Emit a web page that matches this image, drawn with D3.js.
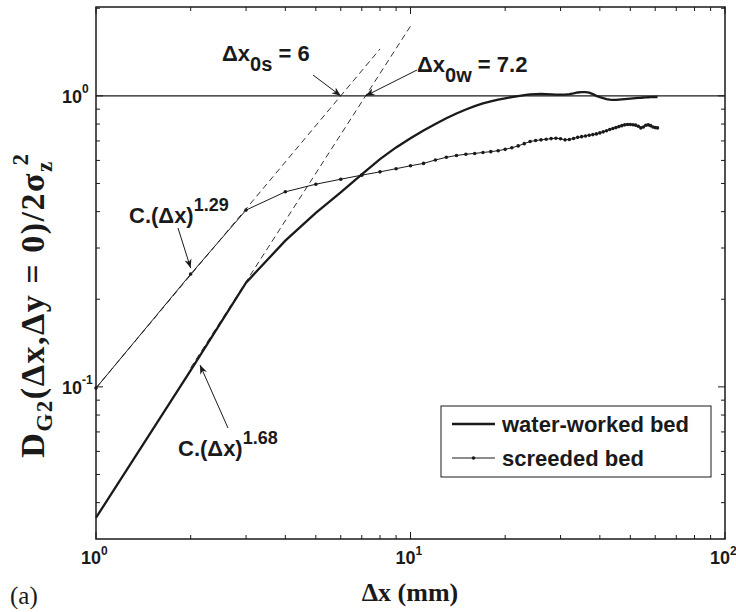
<!DOCTYPE html>
<html><head><meta charset="utf-8">
<script src="https://cdn.jsdelivr.net/npm/d3@7"></script>
<style>body{margin:0;background:#fff}</style>
</head><body><svg id="c" width="736" height="612"></svg>
<script>
const dxValues = d3.range(1, 62);
const waterWorked = [0.0355,0.114,0.228,0.318,0.396,0.466,0.537,0.606,0.665,0.715,
  0.76,0.80,0.838,0.87,0.898,0.922,0.942,0.957,0.97,0.981,
  0.99,0.998,1.005,1.011,1.014,1.015,1.014,1.012,1.01,1.009,
  1.01,1.014,1.02,1.027,1.03,1.03,1.025,1.014,1.0,0.99,
  0.982,0.975,0.97,0.968,0.968,0.97,0.972,0.974,0.976,0.978,
  0.98,0.982,0.984,0.985,0.987,0.988,0.989,0.99,0.99,0.991,0.991];
const screeded = [0.099,0.244,0.405,0.468,0.497,0.517,0.534,0.548,0.562,0.575,
  0.586,0.602,0.615,0.624,0.630,0.634,0.639,0.643,0.648,0.655,
  0.663,0.673,0.685,0.697,0.702,0.706,0.709,0.713,0.715,0.712,
  0.706,0.708,0.714,0.720,0.724,0.728,0.732,0.736,0.740,0.746,
  0.752,0.759,0.766,0.772,0.778,0.784,0.790,0.795,0.797,0.797,
  0.796,0.793,0.786,0.776,0.782,0.792,0.795,0.790,0.782,0.778,0.776];
const seriesNames = ["water-worked bed", "screeded bed"];
const xTickLabels = [{v:1, e:"0"}, {v:10, e:"1"}, {v:100, e:"2"}];
const yTickLabels = [{v:0.1, e:"-1"}, {v:1, e:"0"}];
const xMinor = [2,3,4,5,6,7,8,9,20,30,40,50,60,70,80,90];
const yMinor = [0.04,0.05,0.06,0.07,0.08,0.09,0.2,0.3,0.4,0.5,0.6,0.7,0.8,0.9,2];
const fitExponent = [1.29, 1.68];     // screeded, water-worked
const fitCrossing = [6, 7.2];         // Δx0s, Δx0w
const fitRange = [[1, 8], [2, 10]];
const referenceLevel = 1;

const svg = d3.select("#c");
const L = 96, R = 725, T = 7, B = 539;
const x = d3.scaleLog().domain([1, 100]).range([L, R]);
const y = d3.scaleLog().domain([0.03, 2.02]).range([B, T]);
const ink = "#1a1a1a";
const sans = "'Liberation Sans', Arial, sans-serif";
const serif = "'Liberation Serif', 'Times New Roman', serif";

svg.append("line").attr("x1", x(1)).attr("x2", x(100)).attr("y1", y(referenceLevel)).attr("y2", y(referenceLevel))
  .attr("stroke", ink).attr("stroke-width", 1.1);

fitExponent.forEach((n, i) => {
  const C = Math.pow(fitCrossing[i], -n);
  const [a, b] = fitRange[i];
  svg.append("line").attr("x1", x(a)).attr("y1", y(C * Math.pow(a, n)))
    .attr("x2", x(b)).attr("y2", y(C * Math.pow(b, n)))
    .attr("stroke", "#333").attr("stroke-width", 1).attr("stroke-dasharray", "6,4");
});

const line = d3.line().x(d => x(d[0])).y(d => y(d[1]));
const wData = dxValues.map((d, i) => [d, waterWorked[i]]);
const sData = dxValues.map((d, i) => [d, screeded[i]]);
svg.append("path").attr("d", line(wData)).attr("fill", "none").attr("stroke", ink).attr("stroke-width", 2.3);
svg.append("path").attr("d", line(sData)).attr("fill", "none").attr("stroke", ink).attr("stroke-width", 1);
svg.selectAll("circle.s").data(sData).enter().append("circle").attr("class", "s")
  .attr("cx", d => x(d[0])).attr("cy", d => y(d[1])).attr("r", 1.8).attr("fill", ink);

svg.append("rect").attr("x", L).attr("y", T).attr("width", R - L).attr("height", B - T)
  .attr("fill", "none").attr("stroke", ink).attr("stroke-width", 1.5);

function xt(v, len) {
  svg.append("line").attr("x1", x(v)).attr("x2", x(v)).attr("y1", B).attr("y2", B - len).attr("stroke", ink);
  svg.append("line").attr("x1", x(v)).attr("x2", x(v)).attr("y1", T).attr("y2", T + len).attr("stroke", ink);
}
function yt(v, len) {
  svg.append("line").attr("y1", y(v)).attr("y2", y(v)).attr("x1", L).attr("x2", L + len).attr("stroke", ink);
  svg.append("line").attr("y1", y(v)).attr("y2", y(v)).attr("x1", R).attr("x2", R - len).attr("stroke", ink);
}
xMinor.forEach(v => xt(v, 4));
xTickLabels.forEach(t => xt(t.v, 7));
yMinor.forEach(v => yt(v, 4));
yTickLabels.forEach(t => yt(t.v, 7));

xTickLabels.forEach(t => {
  svg.append("text").attr("x", x(t.v) + 5).attr("y", 564).attr("font-family", sans)
    .attr("font-weight", "bold").attr("font-size", 18).attr("fill", ink).attr("text-anchor", "end").text("10");
  svg.append("text").attr("x", x(t.v) + 5).attr("y", 555).attr("font-family", sans)
    .attr("font-weight", "bold").attr("font-size", 12).attr("fill", ink).text(t.e);
});
yTickLabels.forEach(t => {
  svg.append("text").attr("x", 82).attr("y", y(t.v) + 7).attr("font-family", sans)
    .attr("font-weight", "bold").attr("font-size", 18).attr("fill", ink).attr("text-anchor", "end").text("10");
  svg.append("text").attr("x", 82).attr("y", y(t.v) - 3).attr("font-family", sans)
    .attr("font-weight", "bold").attr("font-size", 12).attr("fill", ink).text(t.e);
});

svg.append("text").attr("x", 410).attr("y", 601).attr("text-anchor", "middle").attr("font-family", serif)
  .attr("font-weight", "bold").attr("font-size", 26).attr("fill", ink).text("Δx (mm)");
svg.append("text").attr("x", 10).attr("y", 604).attr("font-family", serif)
  .attr("font-size", 25).attr("fill", ink).text("(a)");

const yl = svg.append("text").attr("transform", "translate(44,305) rotate(-90)")
  .attr("text-anchor", "middle").attr("font-family", serif).attr("font-weight", "bold")
  .attr("font-size", 34).attr("letter-spacing", 1.5).attr("fill", ink);
yl.append("tspan").text("D");
yl.append("tspan").attr("font-size", 23).attr("dy", 8).text("G2");
yl.append("tspan").attr("dy", -8).text("(Δx,Δy = 0)/2σ");
yl.append("tspan").attr("font-size", 23).attr("dy", 8).text("z");
yl.append("tspan").attr("font-size", 23).attr("dy", -24).attr("dx", -5).text("2");

const defs = svg.append("defs");
defs.append("marker").attr("id", "ah").attr("viewBox", "0 0 10 10").attr("refX", 10).attr("refY", 5)
  .attr("markerWidth", 9).attr("markerHeight", 9).attr("markerUnits", "userSpaceOnUse").attr("orient", "auto")
  .append("path").attr("d", "M0,1 L10,5 L0,9 L3,5 Z").attr("fill", ink);
function arrow(x1, y1, x2, y2) {
  svg.append("line").attr("x1", x1).attr("y1", y1).attr("x2", x2).attr("y2", y2)
    .attr("stroke", ink).attr("stroke-width", 1).attr("marker-end", "url(#ah)");
}
function label(xp, yp, parts) {
  const t = svg.append("text").attr("x", xp).attr("y", yp).attr("font-family", sans)
    .attr("font-weight", "bold").attr("font-size", 22).attr("fill", ink);
  parts.forEach(p => {
    const s = t.append("tspan").text(p.t);
    if (p.fs) s.attr("font-size", p.fs);
    if (p.dy) s.attr("dy", p.dy);
  });
}
label(222, 61, [{t:"Δx"}, {t:"0s", fs:20, dy:10}, {t:" = 6", dy:-10}]);
label(417, 72, [{t:"Δx"}, {t:"0w", fs:20, dy:10}, {t:" = 7.2", dy:-10}]);
label(129, 223, [{t:"C.(Δx)"}, {t:"1.29", fs:18, dy:-12}]);
label(178, 456, [{t:"C.(Δx)"}, {t:"1.68", fs:18, dy:-12}]);
arrow(313, 75, x(fitCrossing[0]), y(referenceLevel));
arrow(417, 70, x(fitCrossing[1]), y(referenceLevel));
arrow(178, 228, x(2), y(screeded[1]) - 6);
arrow(228, 428, 200, 365);

const lg = svg.append("g");
lg.append("rect").attr("x", 441).attr("y", 406).attr("width", 270).attr("height", 71)
  .attr("fill", "#fff").attr("stroke", ink).attr("stroke-width", 1);
seriesNames.forEach((nm, i) => {
  const yy = 424 + i * 34;
  lg.append("line").attr("x1", 452).attr("x2", 495).attr("y1", yy).attr("y2", yy)
    .attr("stroke", ink).attr("stroke-width", i === 0 ? 2.3 : 1);
  if (i === 1) lg.append("circle").attr("cx", 473.5).attr("cy", yy).attr("r", 1.8).attr("fill", ink);
  lg.append("text").attr("x", 502).attr("y", yy + 8).attr("font-family", sans).attr("font-weight", "bold")
    .attr("font-size", 22).attr("fill", ink).text(nm);
});
</script></body></html>
